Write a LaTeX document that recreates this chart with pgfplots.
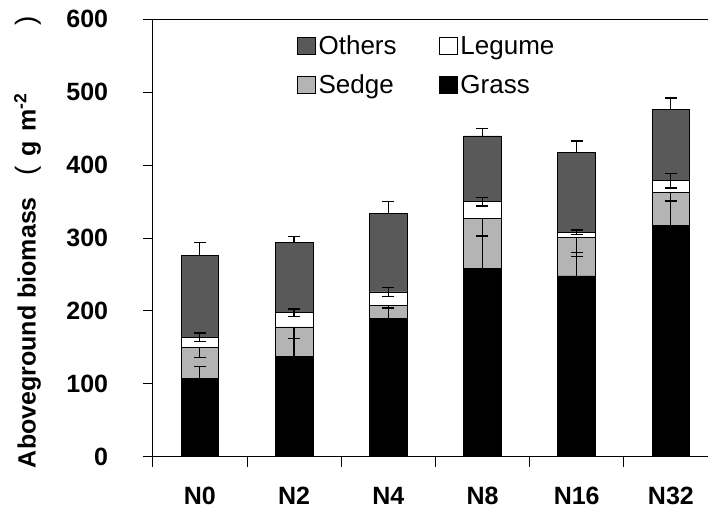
\documentclass[border=0pt]{standalone}
\usepackage{pgfplots}
\usepackage{pgfplotstable}
\pgfplotsset{compat=1.18}
\usepackage{fontspec}
\setmainfont{Liberation Sans}
\definecolor{others}{HTML}{595959}
\definecolor{sedge}{HTML}{B4B4B4}
\pgfplotstableread{
x g ge s se l le o oe
0 107 17 42.5 13 14.3 6 112 18
1 138 24 40 16 19.6 5 96.4 8
2 190 14 17.7 4 18.3 6 108 16
3 258.5 44 68.5 24 23 6 90 10
4 248 32 53 26 7 3 109 16
5 317 33 45 11 16.6 10 97.4 16
}\data
\begin{document}
\begin{tikzpicture}
\useasboundingbox (-152.8pt,-58.3pt) rectangle (555.2pt,456.7pt);
\begin{axis}[
  at={(0,0)}, anchor=south west,
  scale only axis, width=555.2pt, height=437.4pt,
  xmin=-0.5, xmax=5.394, ymin=0, ymax=600,
  ybar stacked, bar width=37.7pt,
  every axis plot/.append style={draw=black, line width=0.8pt,
    legend image code/.code={\draw[#1,draw=black,line width=0.8pt] (0pt,-8.5pt) rectangle (18pt,8.5pt);}},
  axis x line*=bottom, axis y line*=left,
  axis line style={line width=0.9pt},
  tick align=outside, major tick length=10pt,
  tick style={black, line width=0.9pt},
  ytick={0,100,...,600},
  xtick={-0.5,0.5,1.5,2.5,3.5,4.5},
  xticklabels={},
  extra x ticks={0,1,2,3,4,5},
  extra x tick labels={N0,N2,N4,N8,N16,N32},
  extra x tick style={major tick length=0pt},
  /pgf/number format/assume math mode=true,
  ticklabel style={font=\bfseries\fontsize{25}{27}\selectfont},
  yticklabel style={inner sep=0pt, anchor=east, xshift=-34.5pt},
  xticklabel style={inner sep=0pt, anchor=north, yshift=-30pt},
  ylabel={Aboveground biomass\hspace{22pt}{\mdseries\fontsize{28}{30}\selectfont(}\hspace{9pt}g\hspace{3pt} m\textsuperscript{-2}\hspace{68pt}{\mdseries\fontsize{28}{30}\selectfont)}\hspace{4pt}},
  ylabel style={font=\bfseries\fontsize{25}{27}\selectfont, at={(axis description cs:0,0.5)}, anchor=center, yshift=125pt, xshift=-4pt},
  reverse legend, legend columns=2, legend cell align=left,
  legend style={at={(axis description cs:0.2545,0.972)}, anchor=north west, draw=none, fill=none,
    font=\fontsize{26}{28}\selectfont, /tikz/every even column/.append style={column sep=40pt}, row sep=15pt,
    nodes={inner xsep=2.5pt}},
  error bars/error bar style={line width=1.2pt, black},
  error bars/error mark options={rotate=90, mark size=6pt, line width=1.2pt, black},
]
\addplot[fill=black, error bars/.cd, y dir=plus, y explicit] table[x=x,y=g,y error=ge]{\data};
\addlegendentry{Grass}
\addplot[fill=sedge, error bars/.cd, y dir=minus, y explicit] table[x=x,y=s,y error=se]{\data};
\addlegendentry{Sedge}
\addplot[fill=white, error bars/.cd, y dir=both, y explicit] table[x=x,y=l,y error=le]{\data};
\addlegendentry{Legume}
\addplot[fill=others, error bars/.cd, y dir=plus, y explicit] table[x=x,y=o,y error=oe]{\data};
\addlegendentry{Others}
\draw[line width=0.9pt] (rel axis cs:0,1) -- (rel axis cs:1,1);
\end{axis}
\end{tikzpicture}
\end{document}
